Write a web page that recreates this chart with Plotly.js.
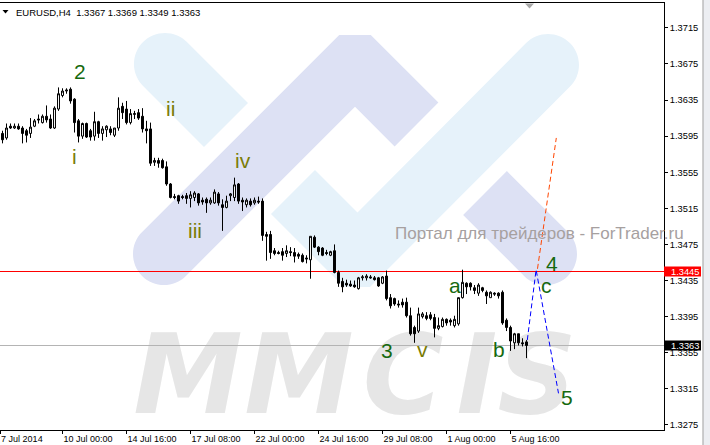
<!DOCTYPE html>
<html>
<head>
<meta charset="utf-8">
<script src="https://cdn.plot.ly/plotly-3.0.1.min.js"></script>
<style>html,body{margin:0;padding:0;background:#fff;}#chart{width:710px;height:445px;}</style>
</head>
<body>
<div id="chart"></div>
<script>
// ---- data (EURUSD H4) ----
const symbol = 'EURUSD,H4';
const open  = [1.3597,1.3598,1.3593,1.3606,1.3604,1.3606,1.3604,1.3601,1.3598,1.3606,1.3614,1.3610,1.3617,1.3614,1.3604,1.3625,1.3640,1.3645,1.3647,1.3636,1.3612,1.3595,1.3609,1.3601,1.3595,1.3611,1.3598,1.3602,1.3603,1.3596,1.3604,1.3628,1.3625,1.3610,1.3619,1.3621,1.3617,1.3603,1.3603,1.3566,1.3568,1.3568,1.3561,1.3542,1.3528,1.3529,1.3528,1.3529,1.3526,1.3527,1.3531,1.3524,1.3525,1.3521,1.3521,1.3531,1.3519,1.3516,1.3529,1.3527,1.3542,1.3524,1.3519,1.3523,1.3521,1.3523,1.3523,1.3486,1.3486,1.3468,1.3466,1.3467,1.3465,1.3467,1.3466,1.3464,1.3463,1.3460,1.3458,1.3483,1.3472,1.3471,1.3466,1.3463,1.3468,1.3444,1.3434,1.3432,1.3431,1.3430,1.3426,1.3438,1.3438,1.3439,1.3438,1.3438,1.3432,1.3440,1.3416,1.3415,1.3409,1.3411,1.3411,1.3396,1.3383,1.3379,1.3395,1.3396,1.3397,1.3394,1.3382,1.3384,1.3392,1.3391,1.3385,1.3387,1.3416,1.3432,1.3432,1.3427,1.3421,1.3427,1.3422,1.3416,1.3421,1.3421,1.3422,1.3391,1.3383,1.3366,1.3376,1.3366,1.3367];
const high  = [1.3601,1.3601,1.3609,1.3609,1.3609,1.3609,1.3606,1.3603,1.3615,1.3614,1.3619,1.3619,1.3629,1.3619,1.3628,1.3649,1.3648,1.3648,1.3649,1.3637,1.3614,1.3610,1.3610,1.3603,1.3622,1.3612,1.3606,1.3607,1.3606,1.3604,1.3638,1.3632,1.3634,1.3625,1.3623,1.3625,1.3626,1.3612,1.3610,1.3571,1.3571,1.3570,1.3567,1.3543,1.3531,1.3530,1.3530,1.3532,1.3534,1.3534,1.3532,1.3527,1.3527,1.3527,1.3536,1.3533,1.3525,1.3529,1.3532,1.3549,1.3543,1.3527,1.3526,1.3526,1.3527,1.3528,1.3526,1.3489,1.3490,1.3471,1.3468,1.3471,1.3474,1.3472,1.3471,1.3466,1.3465,1.3463,1.3484,1.3485,1.3473,1.3472,1.3469,1.3468,1.3475,1.3446,1.3438,1.3436,1.3435,1.3435,1.3439,1.3441,1.3442,1.3441,1.3440,1.3439,1.3440,1.3446,1.3420,1.3416,1.3413,1.3415,1.3416,1.3405,1.3385,1.3405,1.3400,1.3400,1.3400,1.3398,1.3394,1.3394,1.3393,1.3393,1.3396,1.3416,1.3447,1.3433,1.3433,1.3430,1.3432,1.3428,1.3424,1.3423,1.3422,1.3422,1.3424,1.3393,1.3385,1.3377,1.3376,1.3371,1.3369];
const low   = [1.3583,1.3587,1.3591,1.3603,1.3603,1.3602,1.3587,1.3588,1.3593,1.3605,1.3609,1.3609,1.3610,1.3603,1.3603,1.3623,1.3638,1.3642,1.3631,1.3599,1.3588,1.3592,1.3593,1.3590,1.3590,1.3593,1.3590,1.3594,1.3596,1.3594,1.3601,1.3614,1.3608,1.3608,1.3614,1.3613,1.3599,1.3587,1.3562,1.3562,1.3560,1.3559,1.3540,1.3526,1.3525,1.3520,1.3525,1.3520,1.3516,1.3523,1.3518,1.3519,1.3510,1.3519,1.3520,1.3518,1.3490,1.3515,1.3523,1.3523,1.3520,1.3512,1.3516,1.3517,1.3519,1.3520,1.3479,1.3457,1.3459,1.3463,1.3464,1.3457,1.3461,1.3462,1.3455,1.3459,1.3455,1.3454,1.3437,1.3471,1.3463,1.3462,1.3463,1.3462,1.3443,1.3428,1.3422,1.3428,1.3428,1.3427,1.3425,1.3435,1.3435,1.3437,1.3435,1.3428,1.3431,1.3413,1.3404,1.3407,1.3405,1.3405,1.3394,1.3374,1.3366,1.3377,1.3393,1.3391,1.3391,1.3372,1.3380,1.3383,1.3385,1.3385,1.3383,1.3385,1.3415,1.3420,1.3424,1.3420,1.3418,1.3422,1.3409,1.3416,1.3418,1.3415,1.3386,1.3379,1.3357,1.3359,1.3363,1.3362,1.3349];
const close = [1.3592,1.3591,1.3604,1.3604,1.3606,1.3603,1.3598,1.3596,1.3605,1.3612,1.3613,1.3617,1.3613,1.3604,1.3626,1.3642,1.3645,1.3646,1.3634,1.3610,1.3595,1.3609,1.3594,1.3594,1.3611,1.3598,1.3603,1.3606,1.3599,1.3604,1.3626,1.3621,1.3610,1.3620,1.3620,1.3615,1.3603,1.3601,1.3565,1.3568,1.3565,1.3560,1.3542,1.3527,1.3527,1.3523,1.3527,1.3526,1.3530,1.3532,1.3521,1.3522,1.3521,1.3524,1.3533,1.3521,1.3516,1.3523,1.3531,1.3541,1.3523,1.3522,1.3524,1.3519,1.3524,1.3522,1.3485,1.3484,1.3466,1.3465,1.3465,1.3463,1.3468,1.3466,1.3462,1.3462,1.3456,1.3459,1.3484,1.3472,1.3467,1.3463,1.3465,1.3467,1.3444,1.3432,1.3428,1.3430,1.3429,1.3428,1.3438,1.3439,1.3440,1.3438,1.3436,1.3429,1.3439,1.3415,1.3407,1.3409,1.3408,1.3408,1.3396,1.3376,1.3376,1.3398,1.3398,1.3393,1.3393,1.3382,1.3385,1.3392,1.3388,1.3389,1.3392,1.3416,1.3433,1.3428,1.3428,1.3424,1.3430,1.3424,1.3418,1.3422,1.3420,1.3418,1.3388,1.3383,1.3368,1.3376,1.3366,1.3365,1.3363];
const firstBar = -1;               // first (partly hidden) bar index
const tickBars   = [-0.6, 15, 31, 47, 63, 79, 95, 111, 127];
const tickLabels = ['7 Jul 2014','10 Jul 00:00','14 Jul 16:00','17 Jul 08:00','22 Jul 00:00','24 Jul 16:00','29 Jul 08:00','1 Aug 00:00','5 Aug 16:00'];
const levelPrice = 1.3445;          // red horizontal level
// wave labels
const waveText  = ['2','i','ii','iii','iv','3','v','a','b','c','4','5'];
const waveBar   = [19.4, 18.1, 42.1, 48.1, 60.2, 96.2, 105.1, 113.1, 124.2, 135.9, 137.3, 141.2];
const wavePrice = [1.36664, 1.35724, 1.36258, 1.34906, 1.35680, 1.33579, 1.33583, 1.34295, 1.33583, 1.34295, 1.34541, 1.33049];
const waveMajor = [true,false,false,false,false,true,false,true,true,true,true,true];
// projected paths
const blueBars = [131.2, 133.4, 139.0];
const bluePrices = [1.3369, 1.3447, 1.3310];
const redBars = [133.75, 138.45];
const redPrices = [1.3448, 1.3593];

// ---- geometry helpers for decorations (pixel -> paper) ----
const PW = 664, PB = 430, PH = 427;
const fx = x => (x / PW).toFixed(5);
const fy = y => ((PB - y) / PH).toFixed(5);
const P = (x, y) => fx(x) + ',' + fy(y);
function arc(cx, cy, r, d0, d1) {
  const n = Math.ceil(Math.abs(d1 - d0) / 90);
  let s = '';
  for (let i = 0; i < n; i++) {
    const t0 = (d0 + (d1 - d0) * i / n) * Math.PI / 180;
    const t1 = (d0 + (d1 - d0) * (i + 1) / n) * Math.PI / 180;
    const a = 4 / 3 * Math.tan((t1 - t0) / 4);
    const x0 = cx + r * Math.cos(t0), y0 = cy + r * Math.sin(t0);
    const x3 = cx + r * Math.cos(t1), y3 = cy + r * Math.sin(t1);
    const x1 = x0 - a * r * Math.sin(t0), y1 = y0 + a * r * Math.cos(t0);
    const x2 = x3 + a * r * Math.sin(t1), y2 = y3 - a * r * Math.cos(t1);
    s += ' C' + P(x1, y1) + ' ' + P(x2, y2) + ' ' + P(x3, y3);
  }
  return s;
}
function poly(pts) { return pts.map((p, i) => (i ? ' L' : 'M') + P(p[0], p[1])).join(''); }

const LB = '#E6F2FA', LV = '#DDE1F4';
const wm = [];
wm.push({ path: poly([[186.9,42.1],[248,103],[204,147],[143.1,85.9]]) + arc(165,64,31,135,315) + ' Z', fill: LB });
wm.push({ path: poly([[142.1,232.1],[339.2,35],[370.8,35],[438.4,102.6],[394.6,146.4],[355,106.8],[185.9,275.9]]) + arc(164,254,31,45,225) + ' Z', fill: LV });
wm.push({ path: poly([[315,170],[271,214],[344,287],[370,287],[569.8,86.8]]) + arc(548,65,31,45,-135) + ' L' + P(357.5,212.5) + ' Z', fill: LB });
wm.push({ path: poly([[506.9,171.1],[567.9,232.1]]) + arc(546,254,31,-45,135) + ' L' + P(463.1,214.9) + ' Z', fill: LV });

const shapes = wm.map(w => ({ type: 'path', xref: 'paper', yref: 'paper', path: w.path, fillcolor: w.fill, line: { width: 0 }, layer: 'below' }));
// watermark letters
const wmLetters = [['M', 188], ['M', 299], ['C', 403], ['I', 477], ['S', 537]];
wmLetters.forEach(([t, cx]) => shapes.push({ type: 'rect', xref: 'paper', yref: 'paper', x0: fx(cx - 50), x1: fx(cx + 50), y0: fy(407), y1: fy(326),
  line: { width: 0 }, fillcolor: 'rgba(0,0,0,0)', layer: 'below',
  label: { text: '<b><i>' + t + '</i></b>', font: { family: 'DejaVu Sans', size: 110, color: '#E6E6E6' }, textposition: 'middle center', padding: 0 } }));
const lastClose = close[close.length - 1];
shapes.push({ type: 'line', xref: 'paper', yref: 'y', x0: 0, x1: 1, y0: levelPrice, y1: levelPrice, line: { color: '#FF0000', width: 1 }, layer: 'below' });
shapes.push({ type: 'line', xref: 'paper', yref: 'y', x0: 0, x1: 1, y0: lastClose, y1: lastClose, line: { color: '#B4B4B4', width: 1 }, layer: 'below' });
const tagH = 0.00055;
shapes.push({ type: 'rect', xref: 'paper', yref: 'y', x0: 1, x1: fx(701), y0: levelPrice - tagH, y1: levelPrice + tagH, fillcolor: '#FF0000', line: { width: 0 }, layer: 'above' });
shapes.push({ type: 'rect', xref: 'paper', yref: 'y', x0: 1, x1: fx(701), y0: lastClose - tagH, y1: lastClose + tagH, fillcolor: '#000000', line: { width: 0 }, layer: 'above' });
shapes.push({ type: 'path', xref: 'paper', yref: 'paper', path: poly([[525,3.5],[534,3.5],[529.5,8.5]]) + ' Z', fillcolor: '#A8A8A8', line: { width: 0 }, layer: 'above' });
shapes.push({ type: 'path', xref: 'paper', yref: 'paper', path: poly([[2.5,10],[8.5,10],[5.5,13.5]]) + ' Z', fillcolor: '#000000', line: { width: 0 }, layer: 'above' });
shapes.push({ type: 'rect', xref: 'paper', yref: 'paper', x0: fx(703), x1: fx(711), y0: fy(446), y1: fy(-1), fillcolor: '#ECEEF2', line: { color: '#A0A0A0', width: 1 }, layer: 'above' });

const F = 'Liberation Sans, Arial, sans-serif';
const annotations = [];
annotations.push({ xref: 'paper', yref: 'paper', x: fx(14), y: fy(12), xanchor: 'left', yanchor: 'middle', showarrow: false,
  text: symbol + '&nbsp;&nbsp;' + [open, high, low, close].map(a => a[a.length - 1].toFixed(4)).join(' '),
  font: { family: F, size: 9.5, color: '#000' } });
annotations.push({ xref: 'paper', yref: 'paper', x: fx(393), y: fy(233.5), xanchor: 'left', yanchor: 'middle', showarrow: false,
  text: 'Портал для трейдеров - ForTrader.ru', font: { family: F, size: 17, color: '#A6A0A0' } });
annotations.push({ xref: 'paper', yref: 'y', x: fx(669), y: levelPrice, xanchor: 'left', yanchor: 'middle', showarrow: false,
  text: levelPrice.toFixed(4), font: { family: F, size: 9.3, color: '#FFFFFF' } });
annotations.push({ xref: 'paper', yref: 'y', x: fx(669), y: lastClose, xanchor: 'left', yanchor: 'middle', showarrow: false,
  text: lastClose.toFixed(4), font: { family: F, size: 9.3, color: '#FFFFFF' } });
waveText.forEach((t, i) => annotations.push({ xref: 'x', yref: 'y', x: waveBar[i], y: wavePrice[i], showarrow: false,
  xanchor: 'center', yanchor: 'middle', text: t,
  font: { family: F, size: 21, color: waveMajor[i] ? '#16690F' : '#7A7C06' } }));

const bars = open.map((_, i) => firstBar + i);
const traces = [
  { type: 'candlestick', x: bars, open: open, high: high, low: low, close: close,
    increasing: { line: { color: '#000', width: 1 }, fillcolor: '#FFFFFF' },
    decreasing: { line: { color: '#000', width: 1 }, fillcolor: '#000000' },
    whiskerwidth: 0, hoverinfo: 'none' },
  { type: 'scatter', mode: 'lines', x: blueBars, y: bluePrices, line: { color: '#0000FF', width: 1, dash: '5px,3px' }, hoverinfo: 'none' },
  { type: 'scatter', mode: 'lines', x: redBars, y: redPrices, line: { color: '#FF4500', width: 1, dash: '5px,3px' }, hoverinfo: 'none' }
];

const layout = {
  width: 710, height: 445,
  margin: { l: 0, r: 46, t: 3, b: 15 },
  paper_bgcolor: '#FFFFFF', plot_bgcolor: 'rgba(0,0,0,0)',
  showlegend: false, boxgap: 0.3, boxgroupgap: 0.3,
  font: { family: F, size: 9, color: '#000' },
  xaxis: { type: 'linear', range: [-0.625, 165.375], showgrid: false, zeroline: false,
    showline: true, linecolor: '#000', linewidth: 1, mirror: true,
    ticks: 'outside', ticklen: 3, tickcolor: '#000', tickvals: tickBars, ticktext: tickLabels,
    ticklabelposition: 'outside right', tickfont: { family: F, size: 9, color: '#000' },
    rangeslider: { visible: false }, fixedrange: true },
  yaxis: { side: 'right', range: [1.326937, 1.374253], tick0: 1.3275, dtick: 0.004, tickformat: '.4f',
    showgrid: false, zeroline: false, showline: true, linecolor: '#000', linewidth: 1,
    ticks: 'outside', ticklen: 3, tickcolor: '#000', tickfont: { family: F, size: 9.3, color: '#000' }, fixedrange: true },
  shapes: shapes,
  annotations: annotations
};
Plotly.newPlot('chart', traces, layout, { staticPlot: true, displayModeBar: false });
</script>
</body>
</html>
